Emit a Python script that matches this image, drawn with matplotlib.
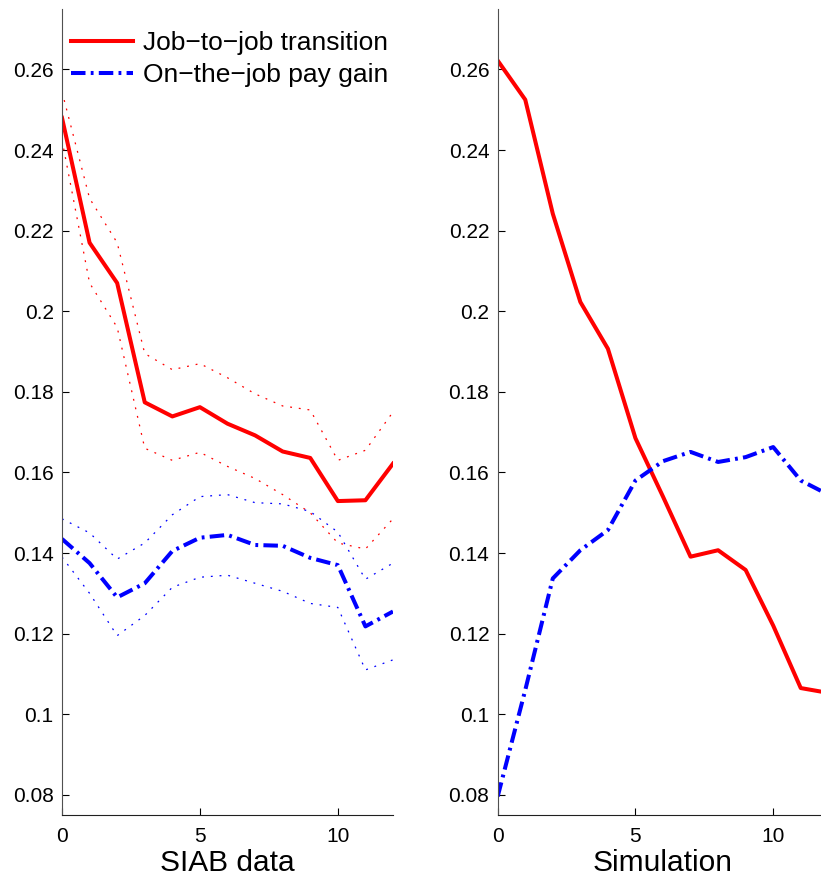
import numpy as np
import matplotlib
matplotlib.use('Agg')
import matplotlib.pyplot as plt

plt.rcParams['font.family'] = ['Liberation Sans', 'DejaVu Sans']

# tenure (years) on the x axis
years = list(range(13))

# SIAB data, job-to-job transition rate and its confidence band
siab_j2j = [0.248, 0.217, 0.207, 0.1774, 0.1739, 0.1762, 0.1721, 0.1692, 0.1652, 0.1636, 0.1529, 0.1531, 0.1622]
siab_j2j_hi = [0.2545, 0.228, 0.217, 0.1895, 0.1855, 0.187, 0.1835, 0.1795, 0.1765, 0.1755, 0.163, 0.1655, 0.175]
siab_j2j_lo = [0.2425, 0.207, 0.196, 0.166, 0.163, 0.165, 0.1615, 0.1585, 0.1545, 0.15, 0.1425, 0.141, 0.1485]

# SIAB data, on-the-job pay gain and its confidence band
siab_pay = [0.1435, 0.1375, 0.129, 0.1325, 0.1405, 0.1438, 0.1445, 0.142, 0.1418, 0.1388, 0.137, 0.1218, 0.1255]
siab_pay_hi = [0.1485, 0.145, 0.1385, 0.1425, 0.1495, 0.154, 0.1545, 0.1525, 0.1522, 0.1503, 0.1452, 0.1335, 0.1375]
siab_pay_lo = [0.139, 0.13, 0.1195, 0.1245, 0.1315, 0.134, 0.1345, 0.1325, 0.1305, 0.1275, 0.1265, 0.111, 0.1135]

# simulation
sim_j2j = [0.2622, 0.2525, 0.2242, 0.2023, 0.1907, 0.1685, 0.154, 0.1391, 0.1407, 0.1358, 0.122, 0.1065, 0.1053]
sim_pay = [0.0796, 0.106, 0.1337, 0.1407, 0.1457, 0.158, 0.1628, 0.1651, 0.1626, 0.1638, 0.1663, 0.158, 0.1545]

yticks = [0.08, 0.1, 0.12, 0.14, 0.16, 0.18, 0.2, 0.22, 0.24, 0.26]
ytick_labels = ['0.08', '0.1', '0.12', '0.14', '0.16', '0.18', '0.2', '0.22', '0.24', '0.26']
xticks = [0, 5, 10]

W, H = 821, 882
fig = plt.figure(figsize=(W / 100, H / 100), dpi=100)
ax1 = fig.add_axes([62 / W, 67 / H, 331 / W, 806 / H])
ax2 = fig.add_axes([497.7 / W, 67 / H, 330.6 / W, 806 / H])

dashdot = (0, (3.6, 1.3, 0.7, 1.3))
dotted = (0, (1.5, 5.5))

ax1.plot(years, siab_j2j, color='red', lw=2.9, label='Job\u2212to\u2212job transition')
ax1.plot(years, siab_pay, color='blue', lw=2.9, ls=dashdot, label='On\u2212the\u2212job pay gain')
ax1.plot(years, siab_j2j_hi, color='red', lw=0.9, ls=dotted)
ax1.plot(years, siab_j2j_lo, color='red', lw=0.9, ls=dotted)
ax1.plot(years, siab_pay_hi, color='blue', lw=0.9, ls=dotted)
ax1.plot(years, siab_pay_lo, color='blue', lw=0.9, ls=dotted)

ax2.plot(years, sim_j2j, color='red', lw=2.9)
ax2.plot(years, sim_pay, color='blue', lw=2.9, ls=dashdot)

for ax, name in [(ax1, 'SIAB data'), (ax2, 'Simulation')]:
    ax.set_xlim(0, 12)
    ax.set_ylim(0.075, 0.275)
    ax.set_xticks(xticks)
    ax.set_yticks(yticks)
    ax.set_yticklabels(ytick_labels)
    ax.spines['top'].set_visible(False)
    ax.spines['right'].set_visible(False)
    ax.spines['left'].set_color('#505050')
    ax.spines['bottom'].set_color('#202020')
    ax.tick_params(direction='in', length=5, width=0.8, labelsize=15)
    ax.tick_params(axis='y', pad=6)
    ax.tick_params(axis='x', pad=9)
    ax.set_xlabel(name, fontsize=21.5, labelpad=2)
    ax.patch.set_alpha(0)

leg = ax1.legend(loc='upper left', bbox_to_anchor=(-0.022, 0.992), frameon=False, fontsize=19,
                 handlelength=2.35, handletextpad=0.4, labelspacing=0.3, borderaxespad=0.2)

fig.savefig('out.png', dpi=100)
